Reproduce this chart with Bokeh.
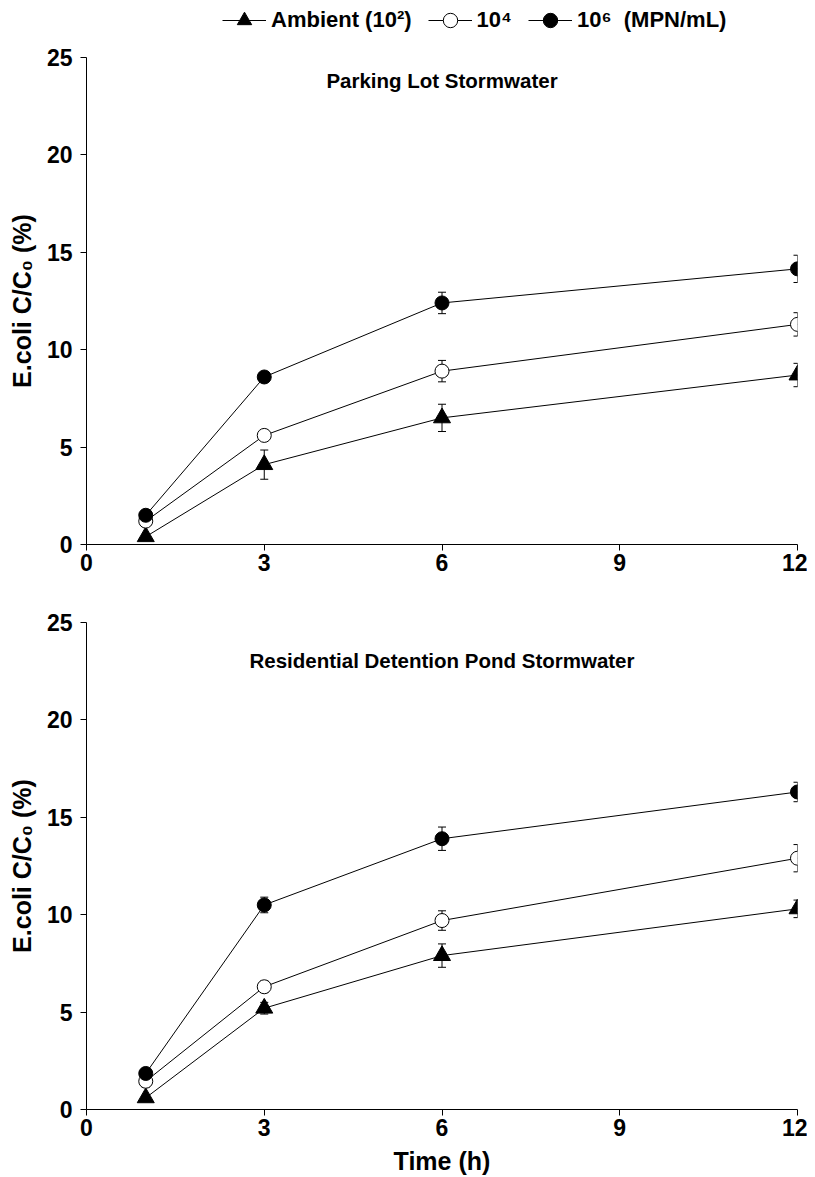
from bokeh.plotting import figure
from bokeh.models import (ColumnDataSource, Whisker, TeeHead, Legend, LegendItem,
                          Label, FixedTicker, Range1d)
from bokeh.layouts import column
from bokeh.embed import file_html
from bokeh.resources import INLINE

# ---------------- data ----------------
time_h = [1, 3, 6, 12]
x_ticks = [0, 3, 6, 9, 12]
y_ticks = [0, 5, 10, 15, 20, 25]

series_labels = ["Ambient (10\u00b2)", "10\u2074", "10\u2076  (MPN/mL)"]

parking_ambient = [0.4, 4.1, 6.5, 8.7]
parking_ambient_err = [0.1, 0.75, 0.7, 0.6]
parking_1e4 = [1.2, 5.6, 8.9, 11.3]
parking_1e4_err = [0.1, 0.15, 0.55, 0.6]
parking_1e6 = [1.5, 8.6, 12.4, 14.15]
parking_1e6_err = [0.1, 0.1, 0.55, 0.7]

pond_ambient = [0.6, 5.2, 7.9, 10.3]
pond_ambient_err = [0.1, 0.3, 0.6, 0.45]
pond_1e4 = [1.45, 6.3, 9.7, 12.9]
pond_1e4_err = [0.3, 0.3, 0.5, 0.7]
pond_1e6 = [1.85, 10.5, 13.9, 16.3]
pond_1e6_err = [0.1, 0.4, 0.6, 0.5]

titles = ["Parking Lot Stormwater", "Residential Detention Pond Stormwater"]
y_label = "E.coli C/C\u2080 (%)"
x_label = "Time (h)"

FONT = "Liberation Sans"
markers = [("triangle", 17, "black"), ("circle", 14, "white"), ("circle", 14, "black")]
FIG_W = 86 + 711 + 10


def make_panel(series, errs, title, title_y, show_xlabel, border_top, border_bottom):
    p = figure(frame_width=711, frame_height=487, output_backend="svg", toolbar_location=None,
               x_range=Range1d(0, 12), y_range=Range1d(0, 25),
               min_border_left=86, min_border_right=10,
               min_border_top=border_top, min_border_bottom=border_bottom)
    p.outline_line_color = None
    p.grid.visible = False
    p.background_fill_color = "white"
    p.border_fill_color = "white"

    for ax in (p.xaxis[0], p.yaxis[0]):
        ax.axis_line_color = "black"
        ax.axis_line_width = 1
        ax.major_tick_out = 6
        ax.major_tick_in = 0
        ax.minor_tick_out = 0
        ax.minor_tick_in = 0
        ax.major_tick_line_color = "black"
        ax.major_label_text_font = FONT
        ax.major_label_text_font_style = "bold"
        ax.major_label_text_font_size = "23px"
        ax.major_label_text_color = "black"
        ax.axis_label_text_font = FONT
        ax.axis_label_text_font_style = "bold"
        ax.axis_label_text_font_size = "25px"
        ax.axis_label_text_color = "black"
    p.xaxis.ticker = FixedTicker(ticks=x_ticks)
    p.yaxis.ticker = FixedTicker(ticks=y_ticks)
    p.xaxis.major_label_standoff = 3
    p.yaxis.major_label_standoff = 8
    p.yaxis.axis_label = y_label
    p.yaxis.axis_label_standoff = 8
    if show_xlabel:
        p.xaxis.axis_label = x_label
        p.xaxis.axis_label_standoff = 8

    for (vals, err, (mk, sz, fill)) in zip(series, errs, markers):
        src = ColumnDataSource(dict(x=time_h, y=vals,
                                    lo=[v - e for v, e in zip(vals, err)],
                                    hi=[v + e for v, e in zip(vals, err)]))
        p.line("x", "y", source=src, line_color="black", line_width=1)
        p.scatter("x", "y", source=src, marker=mk, size=sz, fill_color=fill,
                  line_color="black", line_width=1)
        wh = Whisker(base="x", lower="lo", upper="hi", source=src, dimension="height",
                     line_color="black", line_width=1,
                     upper_head=TeeHead(size=8, line_color="black", line_width=1),
                     lower_head=TeeHead(size=8, line_color="black", line_width=1))
        p.add_layout(wh)

    p.add_layout(Label(x=6, y=title_y, text=title, text_align="center", text_baseline="middle",
                       text_font=FONT, text_font_style="bold", text_font_size="20.5px",
                       text_color="black"))
    return p


# ---------------- legend strip (its renderers use the real series, scrolled out of view) ----
leg_fig = figure(frame_width=FIG_W, frame_height=40, output_backend="svg", toolbar_location=None,
                 x_range=Range1d(100, 101), y_range=Range1d(100, 101),
                 x_axis_location=None, y_axis_location=None,
                 min_border_left=0, min_border_right=0, min_border_top=0, min_border_bottom=0)
leg_fig.outline_line_color = None
leg_fig.grid.visible = False
items = []
for vals, (mk, sz, fill), lab in zip([parking_ambient, parking_1e4, parking_1e6],
                                     markers, series_labels):
    ln = leg_fig.line(x=time_h, y=vals, line_color="black", line_width=1)
    sc = leg_fig.scatter(x=time_h, y=vals, marker=mk, size=sz, fill_color=fill,
                         line_color="black", line_width=1)
    items.append(LegendItem(label=lab, renderers=[ln, sc]))
leg = Legend(items=items, orientation="horizontal", location=(222, 2),
             glyph_width=44, glyph_height=36, label_standoff=5, spacing=16,
             padding=0, margin=0, border_line_color=None, background_fill_alpha=0,
             label_text_font=FONT, label_text_font_style="bold",
             label_text_font_size="22px", label_text_color="black")
leg_fig.add_layout(leg, "center")

p1 = make_panel([parking_ambient, parking_1e4, parking_1e6],
                [parking_ambient_err, parking_1e4_err, parking_1e6_err],
                titles[0], 23.8, False, 17, 50)
p2 = make_panel([pond_ambient, pond_1e4, pond_1e6],
                [pond_ambient_err, pond_1e4_err, pond_1e6_err],
                titles[1], 23.05, True, 28, 66)

layout = column(leg_fig, p1, p2, spacing=0)
open("out.html", "w").write(file_html(layout, INLINE))
